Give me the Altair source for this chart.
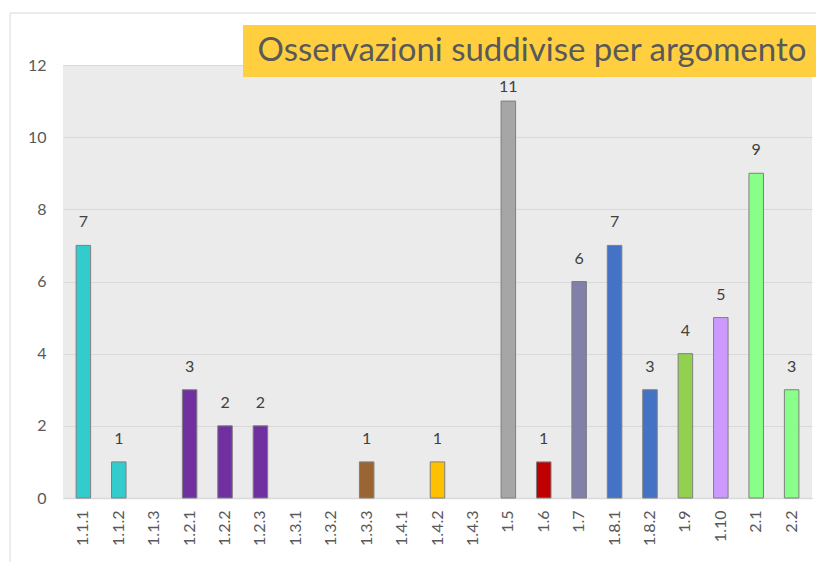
import altair as alt
import pandas as pd

categories = ["1.1.1", "1.1.2", "1.1.3", "1.2.1", "1.2.2", "1.2.3", "1.3.1", "1.3.2",
              "1.3.3", "1.4.1", "1.4.2", "1.4.3", "1.5", "1.6", "1.7", "1.8.1",
              "1.8.2", "1.9", "1.10", "2.1", "2.2"]
values = [7, 1, 0, 3, 2, 2, 0, 0, 1, 0, 1, 0, 11, 1, 6, 7, 3, 4, 5, 9, 3]
colors = ["#33CCCC", "#33CCCC", "#33CCCC", "#7030A0", "#7030A0", "#7030A0",
          "#996633", "#996633", "#996633", "#FFC000", "#FFC000", "#FFC000",
          "#A6A6A6", "#C00000", "#8080A8", "#4472C4", "#4472C4", "#92D050",
          "#CC99FF", "#88FF88", "#88FF88"]
y_ticks = [0, 2, 4, 6, 8, 10, 12]
title_text = "Osservazioni  suddivise  per  argomento"

FONT = "Lato"
GRAY = "#595959"

df = pd.DataFrame({"cat": categories, "val": values, "color": colors})
df = df[df["val"] > 0]

xenc = alt.X("cat:N", sort=categories,
             scale=alt.Scale(domain=categories, paddingInner=0.59, paddingOuter=0.37),
             axis=alt.Axis(title=None, labelAngle=270, labelPadding=12, ticks=False,
                           domain=True, domainColor="#D9D9D9", domainWidth=1.5,
                           grid=False, labelFont=FONT, labelFontSize=16,
                           labelColor=GRAY))
yenc = alt.Y("val:Q", scale=alt.Scale(domain=[0, 12], nice=False),
             axis=alt.Axis(title=None, values=y_ticks, grid=True, gridColor="#D9D9D9",
                           gridWidth=1, domain=False, ticks=False, labelPadding=17,
                           labelFont=FONT, labelFontSize=16, labelColor=GRAY))

base = alt.Chart(df)

bars = base.mark_bar(stroke="#7F7F7F", strokeWidth=1).encode(
    x=xenc, y=yenc, color=alt.Color("color:N", scale=None))

labels = base.transform_filter("datum.val <= 10").mark_text(
    dy=-15, baseline="bottom", font=FONT, fontSize=16, color="#404040"
).encode(x=xenc, y=yenc, text="val:Q")

labels_top = base.transform_filter("datum.val > 10").mark_text(
    dy=-6, baseline="bottom", font=FONT, fontSize=16, color="#404040"
).encode(x=xenc, y=yenc, text="val:Q")

one = pd.DataFrame({"t": [title_text]})

border = alt.Chart(one).mark_rect(fillOpacity=0, stroke="#D9D9D9", strokeWidth=1).encode(
    x=alt.value(-53), x2=alt.value(800), y=alt.value(-52), y2=alt.value(560))

title_box = alt.Chart(one).mark_rect(fill="#FFCF40").encode(
    x=alt.value(180), x2=alt.value(760), y=alt.value(-40), y2=alt.value(12))

title = alt.Chart(one).mark_text(font=FONT, fontSize=33, color=GRAY, align="center",
                                 baseline="middle").encode(
    x=alt.value(469), y=alt.value(-14), text="t:N")

chart = alt.layer(border, bars, labels, labels_top, title_box, title).properties(
    width=749, height=433,
    autosize=alt.AutoSizeParams(type="none"),
    padding={"left": 55, "top": 57, "right": 4, "bottom": 64},
    background="white",
).configure_view(fill="#EBEBEB", stroke=None)

chart.save("out.html", embed_options={"renderer": "svg", "actions": False})
